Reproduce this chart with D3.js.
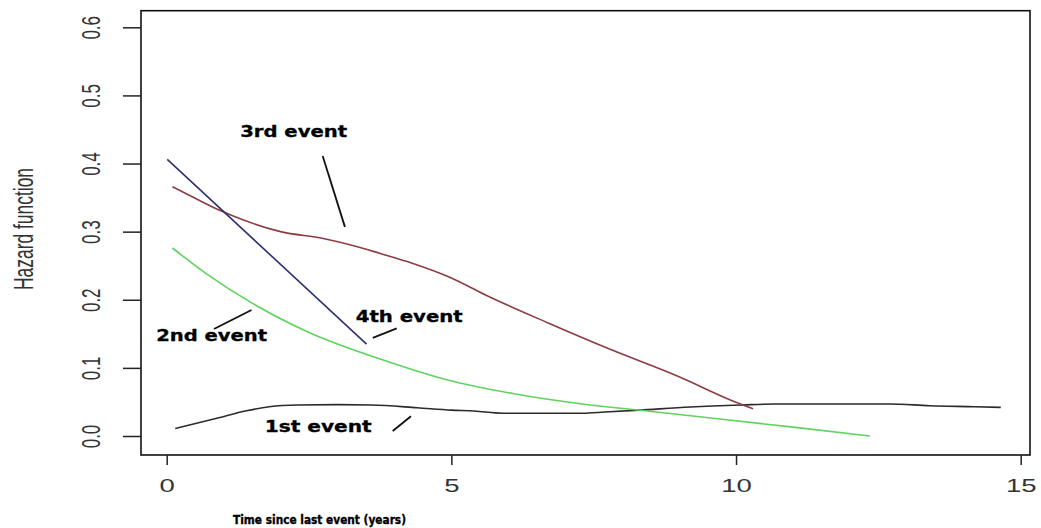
<!DOCTYPE html>
<html>
<head>
<meta charset="utf-8">
<script src="https://cdn.jsdelivr.net/npm/d3@7"></script>
<style>
  html, body { margin: 0; padding: 0; background: #fff; }
  svg { display: block; }
</style>
</head>
<body>
<svg id="chart" width="1041" height="528"></svg>
<script>
// ---------- data ----------
const xTicks = [0, 5, 10, 15];
const xTickLabels = ["0", "5", "10", "15"];
const yTicks = [0, 0.1, 0.2, 0.3, 0.4, 0.5, 0.6];
const yTickLabels = ["0.0", "0.1", "0.2", "0.3", "0.4", "0.5", "0.6"];
const xTitle = "Time since last event (years)";
const yTitle = "Hazard function";

const event1 = [[0.15,0.011],[0.88,0.026],[1.4,0.037],[1.8,0.043],[2.3,0.0455],[3.0,0.046],[3.6,0.0455],[4.4,0.0415],[5.0,0.038],[5.4,0.0367],[5.9,0.0335],[7.3,0.0335],[7.7,0.0352],[8.3,0.038],[9.2,0.0425],[10.1,0.0455],[10.7,0.047],[12.7,0.047],[13.4,0.0445],[14.2,0.043],[14.65,0.042]];
const event2 = [[0.1,0.276],[0.7,0.238],[1.5,0.195],[2.5,0.152],[3.75,0.113],[4.9,0.083],[6.1,0.062],[7.3,0.047],[8.4,0.037],[9.6,0.026],[11.0,0.013],[12.35,0.0]];
const event3 = [[0.1,0.366],[0.5,0.349],[0.94,0.331],[1.35,0.317],[2.0,0.30],[2.75,0.29],[3.3,0.279],[3.75,0.268],[4.3,0.254],[5.0,0.232],[5.6,0.207],[6.7,0.166],[7.8,0.127],[9.0,0.087],[9.9,0.053],[10.3,0.04]];
const event4 = [[0.01,0.406],[3.51,0.135]];

const labelNames = ["1st event", "2nd event", "3rd event", "4th event"];
// label centre and leader line (data coordinates)
const labelAt = [[2.66,0.014],[0.79,0.147],[2.23,0.447],[4.26,0.176]];
const leaderFrom = [[3.97,0.0073],[0.83,0.157],[2.74,0.411],[3.62,0.144]];
const leaderTo = [[4.29,0.029],[1.49,0.185],[3.13,0.307],[4.04,0.158]];
const labelWidths = [107, 111, 107, 107];

// ---------- layout ----------
const svg = d3.select("#chart");
const x = d3.scaleLinear().domain([0, 15]).range([166.7, 1020.7]);
const y = d3.scaleLinear().domain([0, 0.6]).range([436, 27.3]);
const box = {left: 141, right: 1030, top: 10.7, bottom: 455};

// plot box
svg.append("rect")
  .attr("x", box.left).attr("y", box.top)
  .attr("width", box.right - box.left).attr("height", box.bottom - box.top)
  .attr("fill", "none").attr("stroke", "#111").attr("stroke-width", 1.6);

// x axis
const xAxis = svg.append("g")
  .attr("transform", `translate(0,${box.bottom})`)
  .call(d3.axisBottom(x).tickValues(xTicks).tickSize(10).tickFormat((d,i) => xTickLabels[i]));
xAxis.select(".domain").remove();
xAxis.selectAll(".tick line").attr("stroke", "#222").attr("stroke-width", 1.5);
xAxis.selectAll(".tick text")
  .attr("y", null).attr("dy", null)
  .attr("transform", "translate(0,37) scale(1.45,1)")
  .attr("font-family", "Liberation Sans, Arial, sans-serif")
  .attr("font-size", 19).attr("fill", "#333").attr("text-anchor", "middle");

// y axis
const yAxis = svg.append("g")
  .attr("transform", `translate(${box.left},0)`)
  .call(d3.axisLeft(y).tickValues(yTicks).tickSize(18).tickFormat((d,i) => yTickLabels[i]));
yAxis.select(".domain").remove();
yAxis.selectAll(".tick line").attr("stroke", "#222").attr("stroke-width", 1.5);
yAxis.selectAll(".tick text")
  .attr("x", null).attr("dy", null)
  .attr("transform", "translate(-50,0) scale(1.5,1) rotate(-90)")
  .attr("text-anchor", "middle").attr("dominant-baseline", "central")
  .attr("font-family", "Liberation Sans, Arial, sans-serif")
  .attr("font-size", 17).attr("fill", "#333");

// axis titles
svg.append("text")
  .attr("transform", "translate(23.5,229) scale(1.6,1) rotate(-90)")
  .attr("text-anchor", "middle").attr("dominant-baseline", "central")
  .attr("font-family", "Liberation Sans, Arial, sans-serif")
  .attr("font-size", 17.5).attr("fill", "#333")
  .attr("textLength", 122).attr("lengthAdjust", "spacingAndGlyphs")
  .text(yTitle);

svg.append("text")
  .attr("x", 233).attr("y", 524)
  .attr("font-family", "DejaVu Sans, sans-serif").attr("font-weight", "bold")
  .attr("font-size", 12.5).attr("fill", "#000")
  .attr("stroke", "#000").attr("stroke-width", 0.35)
  .attr("textLength", 173).attr("lengthAdjust", "spacingAndGlyphs")
  .text(xTitle);

// curves
const line = d3.line().x(d => x(d[0])).y(d => y(d[1])).curve(d3.curveMonotoneX);
const series = [
  {data: event1, color: "#2b2b2b"},
  {data: event2, color: "#5fd35f"},
  {data: event3, color: "#8e3b45"},
  {data: event4, color: "#2c2f72"}
];
svg.selectAll("path.curve").data(series).enter().append("path")
  .attr("class", "curve")
  .attr("d", d => line(d.data))
  .attr("fill", "none").attr("stroke", d => d.color).attr("stroke-width", 1.6);

// annotations
labelNames.forEach((name, i) => {
  svg.append("text")
    .attr("x", x(labelAt[i][0]) - labelWidths[i] / 2)
    .attr("y", y(labelAt[i][1]))
    .attr("dy", "0.36em")
    .attr("font-family", "DejaVu Sans, sans-serif").attr("font-weight", "bold")
    .attr("font-size", 15.5).attr("fill", "#000")
    .attr("stroke", "#000").attr("stroke-width", 0.3)
    .attr("textLength", labelWidths[i]).attr("lengthAdjust", "spacingAndGlyphs")
    .text(name);
  svg.append("line")
    .attr("x1", x(leaderFrom[i][0])).attr("y1", y(leaderFrom[i][1]))
    .attr("x2", x(leaderTo[i][0])).attr("y2", y(leaderTo[i][1]))
    .attr("stroke", "#111").attr("stroke-width", 1.8);
});
</script>
</body>
</html>
